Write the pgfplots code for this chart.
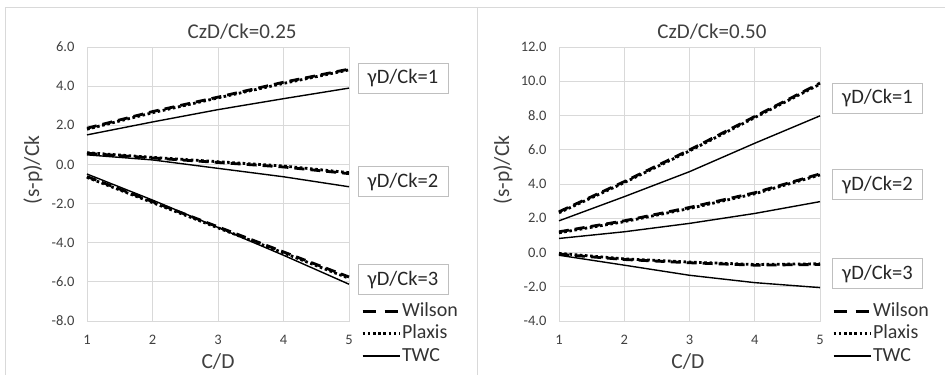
\documentclass[border=0pt]{standalone}
\usepackage{pgfplots}
\pgfplotsset{compat=1.18}
\usepackage{fontspec}
\setmainfont{Carlito}
\definecolor{gridc}{HTML}{D9D9D9}
\definecolor{boxc}{HTML}{BFBFBF}
\definecolor{txt}{HTML}{404040}
\definecolor{ltxt}{HTML}{333333}

\tikzset{
 lab/.style={draw=boxc, line width=0.8bp, fill=white, minimum width=90bp, minimum height=30bp, inner sep=0pt, font=\fontsize{20.5bp}{22bp}\selectfont, text=black!85},
}
\pgfplotsset{
 mystyle/.style={
  scale only axis, height=274bp, anchor=south west, clip=false,
  xmin=1, xmax=5, xtick={1,2,3,4,5},
  grid=major, grid style={gridc, line width=0.8bp},
  axis line style={gridc, line width=0.8bp},
  tick style={draw=none},
  /pgf/number format/assume math mode=true,
  y tick label style={/pgf/number format/fixed, /pgf/number format/fixed zerofill, /pgf/number format/precision=1, xshift=-9bp},
  x tick label style={yshift=-11bp},
  ticklabel style={font=\fontsize{14.5bp}{16bp}\selectfont, text=txt},
  title style={anchor=center, font=\fontsize{21bp}{22bp}\selectfont, text=txt},
  xlabel={C/D}, ylabel={(s-p)/Ck},
  label style={font=\fontsize{21.5bp}{24bp}\selectfont, text=txt},
  legend style={at={(1,0)}, anchor=north west, xshift=12bp, yshift=19bp, draw=none, fill=none,
    font=\fontsize{20bp}{22.5bp}\selectfont, text=ltxt, inner sep=0pt, row sep=4.5bp,
    nodes={inner sep=1bp, text height=13bp, text depth=3bp}},
  legend cell align=left,
  legend image code/.code={\draw[##1] (0bp,0bp) -- (37bp,0bp);},
 },
 wil/.style={black, line width=2.8bp, dash pattern=on 10bp off 6bp},
 pla/.style={black, line width=2.8bp, dash pattern=on 2.6bp off 2.6bp},
 twc/.style={black, line width=1.4bp},
}

\begin{document}
\begin{tikzpicture}
\path[use as bounding box] (0,0) rectangle (945bp,375bp);
\draw[gridc, line width=0.8bp] (5bp,0) -- (5bp,368bp) -- (945bp,368bp);
\draw[gridc, line width=0.8bp] (477bp,0) -- (477bp,368bp);

% Left chart
\begin{axis}[mystyle, at={(87bp,54bp)}, width=262bp,
  ymin=-8, ymax=6, ytick={-8,-6,-4,-2,0,2,4,6},
  title={CzD/Ck=0.25}, title style={at={(0.592,1.035)}},
  xlabel style={at={(0.5,-0.148)}, anchor=center},
  ylabel style={at={(-0.206,0.551)}, anchor=center}]
\addplot[wil, legend image post style={dash pattern=on 13bp off 9bp}] coordinates {(1,1.85) (2,2.70) (3,3.44) (4,4.20) (5,4.87)};
\addlegendentry{Wilson}
\addplot[pla] coordinates {(1,1.80) (2,2.64) (3,3.40) (4,4.14) (5,4.83)};
\addlegendentry{Plaxis}
\addplot[twc] coordinates {(1,1.51) (2,2.17) (3,2.80) (4,3.36) (5,3.90)};
\addlegendentry{TWC}
\addplot[wil, forget plot] coordinates {(1,0.57) (2,0.33) (3,0.10) (4,-0.13) (5,-0.47)};
\addplot[pla, forget plot] coordinates {(1,0.60) (2,0.36) (3,0.14) (4,-0.08) (5,-0.42)};
\addplot[twc, forget plot] coordinates {(1,0.49) (2,0.23) (3,-0.20) (4,-0.63) (5,-1.14)};
\addplot[wil, forget plot] coordinates {(1,-0.62) (2,-1.90) (3,-3.19) (4,-4.47) (5,-5.75)};
\addplot[pla, forget plot] coordinates {(1,-0.66) (2,-1.95) (3,-3.24) (4,-4.52) (5,-5.82)};
\addplot[twc, forget plot] coordinates {(1,-0.49) (2,-1.82) (3,-3.22) (4,-4.64) (5,-6.12)};
\node[lab] at (rel axis cs:1.206,0.887) {γD/Ck=1};
\node[lab] at (rel axis cs:1.206,0.509) {γD/Ck=2};
\node[lab] at (rel axis cs:1.206,0.151) {γD/Ck=3};
\end{axis}

% Right chart
\begin{axis}[mystyle, at={(559bp,54bp)}, width=261bp,
  ymin=-4, ymax=12, ytick={-4,-2,0,2,4,6,8,10,12},
  title={CzD/Ck=0.50}, title style={at={(0.586,1.035)}},
  xlabel style={at={(0.494,-0.148)}, anchor=center},
  ylabel style={at={(-0.215,0.551)}, anchor=center}]
\addplot[wil, legend image post style={dash pattern=on 13bp off 9bp}] coordinates {(1,2.38) (2,4.14) (3,5.99) (4,7.94) (5,9.89)};
\addlegendentry{Wilson}
\addplot[pla] coordinates {(1,2.32) (2,4.08) (3,5.93) (4,7.88) (5,9.83)};
\addlegendentry{Plaxis}
\addplot[twc] coordinates {(1,1.85) (2,3.26) (3,4.72) (4,6.38) (5,7.98)};
\addlegendentry{TWC}
\addplot[wil, forget plot] coordinates {(1,1.21) (2,1.85) (3,2.63) (4,3.49) (5,4.59)};
\addplot[pla, forget plot] coordinates {(1,1.15) (2,1.80) (3,2.57) (4,3.43) (5,4.53)};
\addplot[twc, forget plot] coordinates {(1,0.82) (2,1.21) (3,1.70) (4,2.28) (5,2.97)};
\addplot[wil, forget plot] coordinates {(1,-0.10) (2,-0.41) (3,-0.60) (4,-0.74) (5,-0.70)};
\addplot[pla, forget plot] coordinates {(1,-0.05) (2,-0.37) (3,-0.56) (4,-0.70) (5,-0.66)};
\addplot[twc, forget plot] coordinates {(1,-0.16) (2,-0.74) (3,-1.33) (4,-1.76) (5,-2.05)};
\node[lab] at (rel axis cs:1.220,0.814) {γD/Ck=1};
\node[lab] at (rel axis cs:1.220,0.498) {γD/Ck=2};
\node[lab] at (rel axis cs:1.220,0.173) {γD/Ck=3};
\end{axis}
\end{tikzpicture}
\end{document}
